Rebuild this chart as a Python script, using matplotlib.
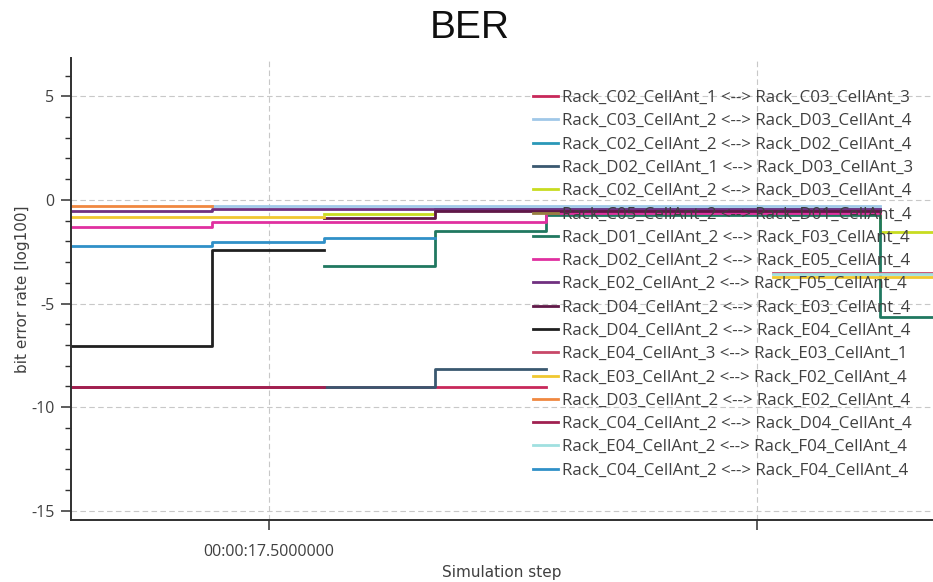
import numpy as np
import matplotlib
matplotlib.use("Agg")
import matplotlib.pyplot as plt

nan = np.nan

# start time of each simulation step segment [s]; last entry closes the final segment
step_times = [16.49, 17.21, 17.78, 18.35, 18.92, 19.50, 20.08, 20.63, 20.95]

links = [
    "Rack_C02_CellAnt_1 <--> Rack_C03_CellAnt_3",
    "Rack_C03_CellAnt_2 <--> Rack_D03_CellAnt_4",
    "Rack_C02_CellAnt_2 <--> Rack_D02_CellAnt_4",
    "Rack_D02_CellAnt_1 <--> Rack_D03_CellAnt_3",
    "Rack_C02_CellAnt_2 <--> Rack_D03_CellAnt_4",
    "Rack_C05_CellAnt_2 <--> Rack_D01_CellAnt_4",
    "Rack_D01_CellAnt_2 <--> Rack_F03_CellAnt_4",
    "Rack_D02_CellAnt_2 <--> Rack_E05_CellAnt_4",
    "Rack_E02_CellAnt_2 <--> Rack_F05_CellAnt_4",
    "Rack_D04_CellAnt_2 <--> Rack_E03_CellAnt_4",
    "Rack_D04_CellAnt_2 <--> Rack_E04_CellAnt_4",
    "Rack_E04_CellAnt_3 <--> Rack_E03_CellAnt_1",
    "Rack_E03_CellAnt_2 <--> Rack_F02_CellAnt_4",
    "Rack_D03_CellAnt_2 <--> Rack_E02_CellAnt_4",
    "Rack_C04_CellAnt_2 <--> Rack_D04_CellAnt_4",
    "Rack_E04_CellAnt_2 <--> Rack_F04_CellAnt_4",
    "Rack_C04_CellAnt_2 <--> Rack_F04_CellAnt_4",
]

colors = ["#c8285a", "#a0c8e8", "#2a98b8", "#3a5870", "#c8dc20", "#988040",
          "#207860", "#e030a0", "#703080", "#601848", "#202020", "#c84868",
          "#f0c830", "#f08840", "#a02050", "#a0e0e0", "#3090c8"]

# bit error rate [log100] per step segment, nan = link not present
ber = [
    [-9.02, -9.02, -9.02, -9.02, nan, nan, nan, nan],
    [nan, -0.27, -0.30, -0.30, -0.30, -0.30, -0.30, nan],
    [nan, nan, nan, -0.42, -0.42, -0.42, -0.42, nan],
    [nan, nan, -9.02, -8.16, nan, nan, nan, nan],
    [nan, nan, -0.68, -0.48, -0.48, -0.48, -0.48, -1.55],
    [nan, nan, nan, -0.50, -0.50, -0.50, -0.50, nan],
    [nan, nan, -3.19, -1.48, -0.72, -0.72, -0.72, -5.65],
    [-1.32, -1.06, -1.06, -1.06, -0.62, -0.62, -0.62, nan],
    [-0.52, -0.45, -0.45, -0.45, -0.45, -0.45, -0.45, nan],
    [nan, nan, -0.87, -0.55, -0.55, -0.55, -0.55, nan],
    [-7.05, -2.42, nan, nan, nan, nan, nan, nan],
    [nan, nan, nan, nan, nan, nan, -3.52, -3.52],
    [-0.83, -0.83, nan, nan, nan, nan, -3.70, -3.70],
    [-0.27, nan, nan, nan, nan, nan, nan, nan],
    [-9.02, -9.02, nan, nan, nan, nan, nan, nan],
    [nan, nan, nan, nan, nan, nan, -3.60, -3.60],
    [-2.24, -2.05, -1.83, nan, nan, nan, nan, nan],
]

plt.rcParams["font.family"] = ["Open Sans", "DejaVu Sans"]
plt.rcParams["axes.unicode_minus"] = False

fig = plt.figure(figsize=(9.33, 5.82), dpi=100)
ax = fig.add_axes([71 / 933, 62 / 582, 1 - 71 / 933, 462 / 582])

for name, col, vals in zip(links, colors, ber):
    ax.plot(step_times, vals + [vals[-1]], drawstyle="steps-post",
            color=col, lw=2.0, label=name)

ax.set_xlim(16.486, 20.90)
ax.set_ylim(-15.45, 6.85)
ax.set_xticks([17.5, 20.0])
ax.set_xticklabels(["00:00:17.5000000", ""])
ax.set_yticks([5, 0, -5, -10, -15])
ax.set_yticks(np.arange(-15, 7), minor=True)
ax.grid(True, which="major", color="#c8c8c8", ls=(0, (5, 3)), lw=0.8)

for s in ["top", "right"]:
    ax.spines[s].set_visible(False)
for s in ["left", "bottom"]:
    ax.spines[s].set_color("#303030")
    ax.spines[s].set_linewidth(1.4)
ax.tick_params(which="major", length=7, width=1.1, color="#303030",
               labelsize=11.5, labelcolor="#404040", pad=5)
ax.tick_params(axis="x", which="major", pad=10)
ax.tick_params(which="minor", length=4, width=1.0, color="#303030")
ax.tick_params(axis="x", which="minor", length=0)

ax.set_ylabel("bit error rate [log100]", fontsize=11, color="#404040",
              labelpad=1, family="DejaVu Sans")
ax.set_xlabel("Simulation step", fontsize=11, color="#404040",
              labelpad=4, family="DejaVu Sans")

fig.text(0.503, 1 - 28 / 582, "BER", ha="center", va="center",
         fontsize=28, family="Liberation Sans", color="#101010")

ax.legend(loc="upper left", bbox_to_anchor=(533 / 933, 1 - 90 / 582),
          bbox_transform=fig.transFigure, frameon=False, fontsize=12.2,
          handlelength=1.45, handletextpad=0.25, labelspacing=0.43,
          borderpad=0, borderaxespad=0, labelcolor="#404040")

fig.savefig("out.png", dpi=100)
